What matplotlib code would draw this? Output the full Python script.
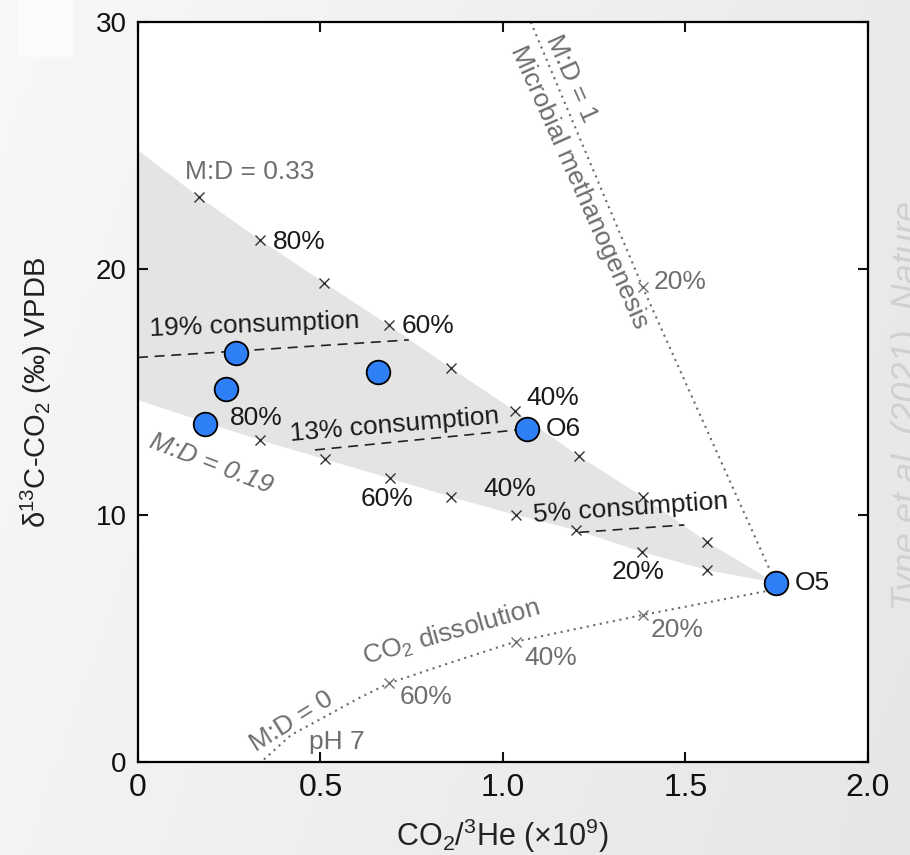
import numpy as np
import matplotlib
matplotlib.use('Agg')
import matplotlib.pyplot as plt

plt.rcParams['font.family'] = ['Liberation Sans', 'DejaVu Sans']
plt.rcParams['mathtext.fontset'] = 'custom'
plt.rcParams['mathtext.rm'] = 'Liberation Sans'
plt.rcParams['mathtext.it'] = 'Liberation Sans:italic'

# Samples (CO2/3He in 1e9, d13C-CO2 permil)
sample_x = [0.269, 0.242, 0.184, 0.659, 1.066, 1.747]
sample_y = [16.58, 15.12, 13.70, 15.81, 13.50, 7.26]

# Mixing / consumption model marks, M:D = 0.33 (upper) and 0.19 (lower)
upper_x = [0.168, 0.335, 0.511, 0.687, 0.857, 1.034, 1.207, 1.383, 1.560]
upper_y = [22.90, 21.16, 19.42, 17.71, 15.97, 14.22, 12.41, 10.75, 8.91]
lower_x = [0.170, 0.334, 0.513, 0.690, 0.857, 1.036, 1.200, 1.382, 1.560]
lower_y = [13.80, 13.05, 12.27, 11.50, 10.75, 10.01, 9.40, 8.51, 7.78]

# Edges of the shaded envelope
env_upper_x = [0.0, 0.168, 0.335, 0.511, 0.687, 0.857, 1.034, 1.207, 1.383, 1.560, 1.747]
env_upper_y = [24.8, 22.90, 21.16, 19.42, 17.71, 15.97, 14.22, 12.41, 10.75, 8.91, 7.26]
env_lower_x = [1.747, 1.560, 1.382, 1.200, 1.036, 0.857, 0.690, 0.513, 0.334, 0.0]
env_lower_y = [7.26, 7.78, 8.51, 9.40, 10.01, 10.75, 11.50, 12.27, 13.05, 14.67]

# Microbial methanogenesis trend (M:D = 1)
meth_x = [1.076, 1.383, 1.747]
meth_y = [30.0, 19.24, 7.26]
meth_mark_x = [1.383]
meth_mark_y = [19.24]

# CO2 dissolution trend (M:D = 0)
diss_x = [0.345, 0.420, 0.513, 0.600, 0.687, 0.861, 1.035, 1.383, 1.712, 1.747]
diss_y = [0.10, 1.10, 1.84, 2.55, 3.19, 4.05, 4.88, 5.96, 6.90, 7.00]
diss_mark_x = [0.687, 1.035, 1.383]
diss_mark_y = [3.19, 4.88, 5.96]

# Consumption lines
cons19_x = [0.0, 0.742]
cons19_y = [16.40, 17.11]
cons13_x = [0.485, 1.066]
cons13_y = [12.65, 13.50]
cons5_x = [1.209, 1.497]
cons5_y = [9.31, 9.61]

fig = plt.figure(figsize=(9.1, 8.55), dpi=100)

# slide-style background
bg = fig.add_axes([0, 0, 1, 1], zorder=-10)
gx, gy = np.meshgrid(np.linspace(0, 1, 200), np.linspace(0, 1, 200))
shade = 0.972 - 0.07 * (0.75 * gx + 0.25 * gy)
bg.imshow(np.dstack([shade] * 3), extent=[0, 1, 0, 1], aspect='auto', origin='upper')
bg.add_patch(plt.Rectangle((17 / 910, 1 - 57 / 855), 56 / 910, 57 / 855, color='#fbfbfb', lw=0))
bg.set_xlim(0, 1)
bg.set_ylim(0, 1)
bg.axis('off')

ax = fig.add_axes([0.1516, 0.1088, 0.8022, 0.8655])
ax.set_facecolor('white')

ax.fill(env_upper_x + env_lower_x, env_upper_y + env_lower_y,
        color='#e4e4e4', lw=0, zorder=1)

dots = (0, (1, 2.2))
ax.plot(meth_x, meth_y, ls=dots, color='#6a6a6a', lw=1.5, zorder=2)
ax.plot(diss_x, diss_y, ls=dots, color='#6a6a6a', lw=1.5, zorder=2)

for cx, cy in [(cons19_x, cons19_y), (cons13_x, cons13_y), (cons5_x, cons5_y)]:
    ax.plot(cx, cy, ls=(0, (6, 4)), color='#222222', lw=1.2, zorder=3)

ax.plot(upper_x, upper_y, 'x', color='#333333', ms=7.5, mew=1.0, zorder=4)
ax.plot(lower_x, lower_y, 'x', color='#333333', ms=7.5, mew=1.0, zorder=4)
ax.plot(meth_mark_x, meth_mark_y, 'x', color='#707070', ms=7.5, mew=1.0, zorder=4)
ax.plot(diss_mark_x, diss_mark_y, 'x', color='#707070', ms=7.5, mew=1.0, zorder=4)

ax.plot(sample_x, sample_y, 'o', ms=17, mfc='#2f7ff7', mec='black', mew=1.3, zorder=6)

black = '#1a1a1a'
grey = '#6e6e6e'
fs = 19


def label(x, y, s, color=black, rot=0, ha='center', **kw):
    ax.text(x, y, s, color=color, fontsize=fs, rotation=rot, ha=ha, va='center',
            rotation_mode='anchor', zorder=7, **kw)


label(0.442, 21.09, '80%')
label(0.794, 17.68, '60%')
label(1.137, 14.74, '40%')
label(1.117, 13.50, 'O6', ha='left')
label(1.800, 7.26, 'O5', ha='left')
label(0.323, 13.93, '80%')
label(0.681, 10.66, '60%')
label(1.019, 11.07, '40%')
label(1.371, 7.71, '20%')
label(0.320, 17.71, '19% consumption', rot=2.2)
label(0.703, 13.66, '13% consumption', rot=4.9)
label(1.350, 10.28, '5% consumption', rot=4)

label(0.307, 23.93, 'M:D = 0.33', color=grey)
label(0.201, 12.10, 'M:D = 0.19', color=grey, rot=-21, style='italic')
label(0.421, 1.63, 'M:D = 0', color=grey, rot=32)
label(0.545, 0.80, 'pH 7', color=grey)
label(0.858, 5.26, 'CO$_2$ dissolution', color=grey, rot=16)
label(0.788, 2.65, '60%', color=grey)
label(1.131, 4.20, '40%', color=grey)
label(1.478, 5.35, '20%', color=grey)
label(1.486, 19.47, '20%', color=grey)
label(1.186, 27.72, 'M:D = 1', color=grey, rot=-66)
label(1.209, 23.32, 'Microbial methanogenesis', color=grey, rot=-66)

narrow = ['Liberation Sans Narrow', 'Liberation Sans', 'DejaVu Sans']

ax.set_xlim(0, 2.0)
ax.set_ylim(0, 30)
ax.set_xticks([0, 0.5, 1.0, 1.5, 2.0])
ax.set_xticklabels(['0', '0.5', '1.0', '1.5', '2.0'], family=narrow, fontsize=23)
ax.set_yticks([0, 10, 20, 30])
ax.tick_params(direction='in', length=7, width=1.5, top=True, right=True,
               pad=8, colors='#111111')
ax.tick_params(axis='y', labelsize=20)
for sp in ax.spines.values():
    sp.set_linewidth(1.6)

ax.set_xlabel(r'CO$_2$/$^3$He (×10$^9$)', fontsize=22, labelpad=10, color='#222222',
              family=narrow)
ax.set_ylabel(r'δ$^{13}$C-CO$_2$ (‰) VPDB', fontsize=21, labelpad=30, color='#222222')

fig.text(917.5 / 910, 1 - 610 / 855, 'Tyne et al. (2021), Nature', rotation=90,
         rotation_mode='anchor', ha='left', va='baseline', fontsize=26,
         style='italic', color='#d0d0d0')

fig.savefig('out.png', dpi=100)
